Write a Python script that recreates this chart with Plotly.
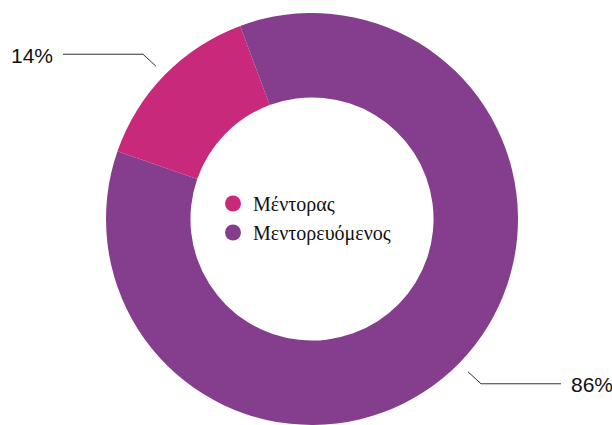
import math
import plotly.graph_objects as go

# Data
labels = ["Μέντορας", "Μεντορευόμενος"]
values = [14, 86]
colors = ["#C9297A", "#843E8D"]

W, H = 612, 425
cx, cy, R = 312, 219, 206          # pie centre / radius in pixels
start_ccw = 70.8                   # first slice starts this many degrees ccw from 12 o'clock

def px(x):
    return x / W

def py(y):
    return 1 - y / H

fig = go.Figure()
fig.add_trace(go.Pie(
    labels=labels, values=values, hole=0.59, sort=False,
    direction="clockwise", rotation=-start_ccw,
    marker=dict(colors=colors, line=dict(width=0)),
    textinfo="none", hoverinfo="label+percent", showlegend=False,
    domain=dict(x=[px(cx - R), px(cx + R)], y=[py(cy + R), py(cy - R)]),
))

# legend entries with round markers
for lab, col in zip(labels, colors):
    fig.add_trace(go.Scatter(x=[None], y=[None], mode="markers", name=lab,
                             marker=dict(color=col, size=18, symbol="circle")))

# percentage labels with elbow leader lines
total = sum(values)
acc = 0.0
shapes, annots = [], []
for i, v in enumerate(values):
    mid = start_ccw - (acc + v / 2) / total * 360   # degrees ccw from top
    acc += v
    a = math.radians(mid)
    dx, dy = -math.sin(a), -math.cos(a)
    sx, sy = (1 if dx > 0 else -1), (1 if dy > 0 else -1)
    x0, y0 = cx + dx * R * 1.06, cy + dy * R * 1.06
    x1, y1 = x0 + sx * 13, y0 + sy * 12
    x2 = x1 + sx * 80
    path = f"M{px(x0)},{py(y0)} L{px(x1)},{py(y1)} L{px(x2)},{py(y1)}"
    shapes.append(dict(type="path", xref="paper", yref="paper", path=path,
                       line=dict(color="#333333", width=1)))
    pct = round(v / total * 100)
    annots.append(dict(x=px(x2 + sx * 9), y=py(y1 + 1), xref="paper", yref="paper",
                       text=f"{pct}%", showarrow=False,
                       xanchor="right" if dx < 0 else "left", yanchor="middle",
                       borderpad=0,
                       font=dict(family="Liberation Sans, Arial", size=21, color="#111111")))

fig.update_layout(
    width=W, height=H, margin=dict(l=0, r=0, t=0, b=0),
    paper_bgcolor="white", plot_bgcolor="white",
    xaxis=dict(visible=False), yaxis=dict(visible=False),
    shapes=shapes, annotations=annots,
    legend=dict(x=px(213), y=py(218), xanchor="left", yanchor="middle",
                bgcolor="rgba(0,0,0,0)",
                font=dict(family="Liberation Serif, Times New Roman, serif", size=20, color="#111111")),
)

fig.write_html("out.html")
